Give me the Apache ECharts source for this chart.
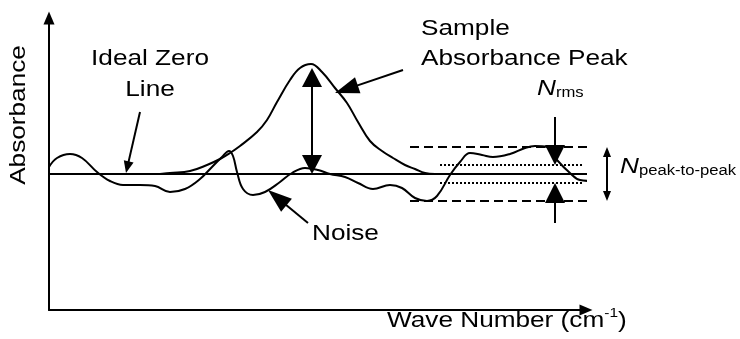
<!DOCTYPE html>
<html>
<head>
<meta charset="utf-8">
<script src="https://cdn.jsdelivr.net/npm/echarts@6/dist/echarts.min.js"></script>
<style>
  html, body { margin: 0; padding: 0; background: #fff; }
  #chart { width: 740px; height: 339px; }
</style>
</head>
<body>
<div id="chart"></div>
<script>
// Axis extents: wave number in arbitrary units, absorbance in AU (0 = ideal zero line)
const xRange = [0, 537];
const yRange = [-1.36, 1.56];

// Ideal zero line
const zeroLineX = [0, 543];

// Sample absorbance peak (sits on the zero line)
const peakX = [111, 121, 141, 158, 171, 181, 191, 208, 218, 228, 241, 251, 262, 273, 286, 298, 309, 321, 333, 344, 356, 366, 376, 386];
const peakY = [0, 0.01, 0.03, 0.09, 0.15, 0.21, 0.28, 0.42, 0.54, 0.72, 0.94, 1.06, 1.10, 1.02, 0.86, 0.71, 0.52, 0.33, 0.23, 0.16, 0.09, 0.05, 0.01, 0];

// Noisy baseline
const noiseX = [0, 8, 21, 33, 48, 61, 74, 91, 106, 121, 136, 151, 163, 173, 180, 184, 188, 194, 204, 216, 231, 243, 256, 269, 281, 296, 309, 324, 341, 353, 366, 378, 388, 401, 411, 421, 433, 444, 461, 476, 486, 498, 508, 521, 531, 543];
const noiseY = [0.07, 0.16, 0.20, 0.16, 0.02, -0.07, -0.11, -0.11, -0.12, -0.18, -0.15, -0.05, 0.07, 0.17, 0.23, 0.18, 0.02, -0.15, -0.21, -0.18, -0.08, 0.01, 0.06, 0.04, 0.00, -0.03, -0.09, -0.15, -0.11, -0.14, -0.24, -0.27, -0.22, -0.01, 0.12, 0.21, 0.19, 0.17, 0.20, 0.26, 0.28, 0.27, 0.14, 0.01, -0.06, -0.07];

// Noise bands: peak-to-peak limits (dashed) and rms limits (dotted)
const peakToPeakLevels = [0.27, -0.27];
const peakToPeakSpan = [361, 573];
const rmsLevels = [0.09, -0.09];
const rmsSpan = [391, 535];

// Annotation arrows: [from, to] in data units
const zeroArrow = [[91, 0.62], [77, 0.01]];
const peakLabelArrow = [[354, 1.04], [286, 0.81]];
const noiseArrow = [[259, -0.49], [219, -0.16]];
const peakHeightArrow = [[263, 0], [263, 1.06]];
const rmsTopArrow = [[506, 0.57], [506, 0.09]];
const rmsBottomArrow = [[506, -0.49], [506, -0.09]];
const peakToPeakArrow = [[558, -0.27], [558, 0.27]];

// Text labels and their anchors (baseline positions in data units)
const labelTexts = ['Ideal Zero', 'Line', 'Sample', 'Absorbance Peak', 'Noise'];
const labelAnchors = [[101, 1.07], [101, 0.76], [372, 1.37], [372, 1.07], [263, -0.68]];
const yTitle = 'Absorbance';
const yTitleCenter = 0.59;
const xTitle = 'Wave Number (cm';
const xTitleSup = '-1';
const xTitleStart = 338;
const rmsLabel = ['N', 'rms'];
const rmsAnchor = [488, 0.77];
const ppLabel = ['N', 'peak-to-peak'];
const ppAnchor = [571, -0.01];

const FONT = "'Liberation Sans', Arial, sans-serif";
const FS = 22;
const SUB_FS = 14;
const STRETCH = 1.19;
const INK = '#000';

const chart = echarts.init(document.getElementById('chart'), null, { renderer: 'canvas' });

const pairs = (xs, ys) => xs.map((x, i) => [x, ys[i]]);

function lineSeries(data, extra) {
  return Object.assign({
    type: 'line',
    data: data,
    showSymbol: false,
    symbol: 'none',
    clip: false,
    silent: true,
    lineStyle: { color: INK, width: 2 }
  }, extra || {});
}

function arrowParts(api, seg, len, wid, both, lw) {
  const a = api.coord(seg[0]);
  const b = api.coord(seg[1]);
  const dx = b[0] - a[0], dy = b[1] - a[1];
  const d = Math.hypot(dx, dy);
  const ux = dx / d, uy = dy / d;
  const nx = -uy, ny = ux;
  const head = (tip, sx, sy) => ({
    type: 'polygon',
    shape: {
      points: [
        [tip[0], tip[1]],
        [tip[0] - sx * len + nx * wid / 2, tip[1] - sy * len + ny * wid / 2],
        [tip[0] - sx * len - nx * wid / 2, tip[1] - sy * len - ny * wid / 2]
      ]
    },
    style: { fill: INK }
  });
  const s = both ? [a[0] + ux * len * 0.8, a[1] + uy * len * 0.8] : a;
  const e = [b[0] - ux * len * 0.8, b[1] - uy * len * 0.8];
  const parts = [
    { type: 'line', shape: { x1: s[0], y1: s[1], x2: e[0], y2: e[1] }, style: { stroke: INK, lineWidth: lw || 2 } },
    head(b, ux, uy)
  ];
  if (both) parts.push(head(a, -ux, -uy));
  return parts;
}

function textAt(px, text, opts) {
  const o = opts || {};
  const fs = o.fontSize || FS;
  return {
    type: 'text',
    x: px[0],
    y: px[1] - 0.35 * fs,
    scaleX: STRETCH,
    style: Object.assign({
      text: text,
      fontFamily: FONT,
      fontSize: fs,
      fill: INK,
      align: o.align || 'left',
      verticalAlign: 'middle'
    }, o.style || {})
  };
}

function renderArrows(params, api) {
  const children = [].concat(
    arrowParts(api, zeroArrow, 12, 10, false, 2),
    arrowParts(api, peakLabelArrow, 24, 17, false, 2),
    arrowParts(api, noiseArrow, 24, 17, false, 2),
    arrowParts(api, peakHeightArrow, 19, 20, true, 2),
    arrowParts(api, rmsTopArrow, 20, 20, false, 2),
    arrowParts(api, rmsBottomArrow, 20, 20, false, 2),
    arrowParts(api, peakToPeakArrow, 10, 8, true, 2)
  );
  return { type: 'group', children: children };
}

function renderTexts(params, api) {
  const children = labelTexts.map((t, i) =>
    textAt(api.coord(labelAnchors[i]), t, { align: i < 2 ? 'center' : 'left' })
  );

  // Y axis title, rotated to read bottom-to-top beside the axis
  const yAxisX = api.coord([xRange[0], 0])[0];
  const yMid = api.coord([0, yTitleCenter])[1];
  children.push({
    type: 'text',
    x: yAxisX - 22 - 0.35 * FS,
    y: yMid,
    rotation: Math.PI / 2,
    scaleX: STRETCH,
    style: { text: yTitle, fontFamily: FONT, fontSize: FS, fill: INK, align: 'center', verticalAlign: 'middle' }
  });

  // X axis title with superscript unit exponent
  const xt = api.coord([xTitleStart, yRange[0] - 0.19]);
  children.push({
    type: 'text',
    x: xt[0],
    y: xt[1] - 0.35 * FS,
    scaleX: STRETCH,
    style: {
      text: '{b|' + xTitle + '}{sup|' + xTitleSup + '}{b|)}',
      fontFamily: FONT, fontSize: FS, fill: INK, align: 'left', verticalAlign: 'middle',
      rich: {
        b: { fontFamily: FONT, fontSize: FS, lineHeight: 28, fill: INK },
        sup: { fontFamily: FONT, fontSize: 13, lineHeight: 13, verticalAlign: 'top', fill: INK }
      }
    }
  });

  // Noise measures with italic N and subscripts
  const sub = (parts) => ({
    text: '{n|' + parts[0] + '}{s|' + parts[1] + '}',
    fontFamily: FONT, fontSize: FS, fill: INK, align: 'left', verticalAlign: 'middle',
    rich: {
      n: { fontFamily: FONT, fontSize: FS, fontStyle: 'italic', fill: INK },
      s: { fontFamily: FONT, fontSize: SUB_FS, verticalAlign: 'bottom', fill: INK }
    }
  });
  const rp = api.coord(rmsAnchor);
  children.push({ type: 'text', x: rp[0], y: rp[1] - 0.35 * FS, scaleX: STRETCH, style: sub(rmsLabel) });
  const pp = api.coord(ppAnchor);
  children.push({ type: 'text', x: pp[0], y: pp[1] - 0.35 * FS, scaleX: STRETCH, style: sub(ppLabel) });

  return { type: 'group', children: children };
}

const bandSeries = [];
peakToPeakLevels.forEach((lv) => {
  bandSeries.push(lineSeries([[peakToPeakSpan[0], lv], [peakToPeakSpan[1], lv]], {
    lineStyle: { color: INK, width: 2, type: [9, 5] }
  }));
});
rmsLevels.forEach((lv) => {
  bandSeries.push(lineSeries([[rmsSpan[0], lv], [rmsSpan[1], lv]], {
    lineStyle: { color: INK, width: 2, type: [2, 2] }
  }));
});

const option = {
  animation: false,
  backgroundColor: '#fff',
  grid: { left: 49, right: 154, top: 18, bottom: 29, containLabel: false },
  xAxis: {
    type: 'value', min: xRange[0], max: xRange[1],
    axisLine: { show: true, onZero: false, symbol: ['none', 'triangle'], symbolSize: [11, 13], lineStyle: { color: INK, width: 2 } },
    axisTick: { show: false }, axisLabel: { show: false }, splitLine: { show: false }
  },
  yAxis: {
    type: 'value', min: yRange[0], max: yRange[1],
    axisLine: { show: true, onZero: false, symbol: ['none', 'triangle'], symbolSize: [11, 13], lineStyle: { color: INK, width: 2 } },
    axisTick: { show: false }, axisLabel: { show: false }, splitLine: { show: false }
  },
  series: [
    lineSeries(zeroLineX.map((x) => [x, 0])),
    lineSeries(pairs(peakX, peakY), { smooth: 0.4 }),
    lineSeries(pairs(noiseX, noiseY), { smooth: 0.4 })
  ].concat(bandSeries, [
    { type: 'custom', renderItem: renderArrows, data: [0], silent: true, clip: false, z: 5 },
    { type: 'custom', renderItem: renderTexts, data: [0], silent: true, clip: false, z: 6 }
  ])
};

chart.setOption(option);
</script>
</body>
</html>
